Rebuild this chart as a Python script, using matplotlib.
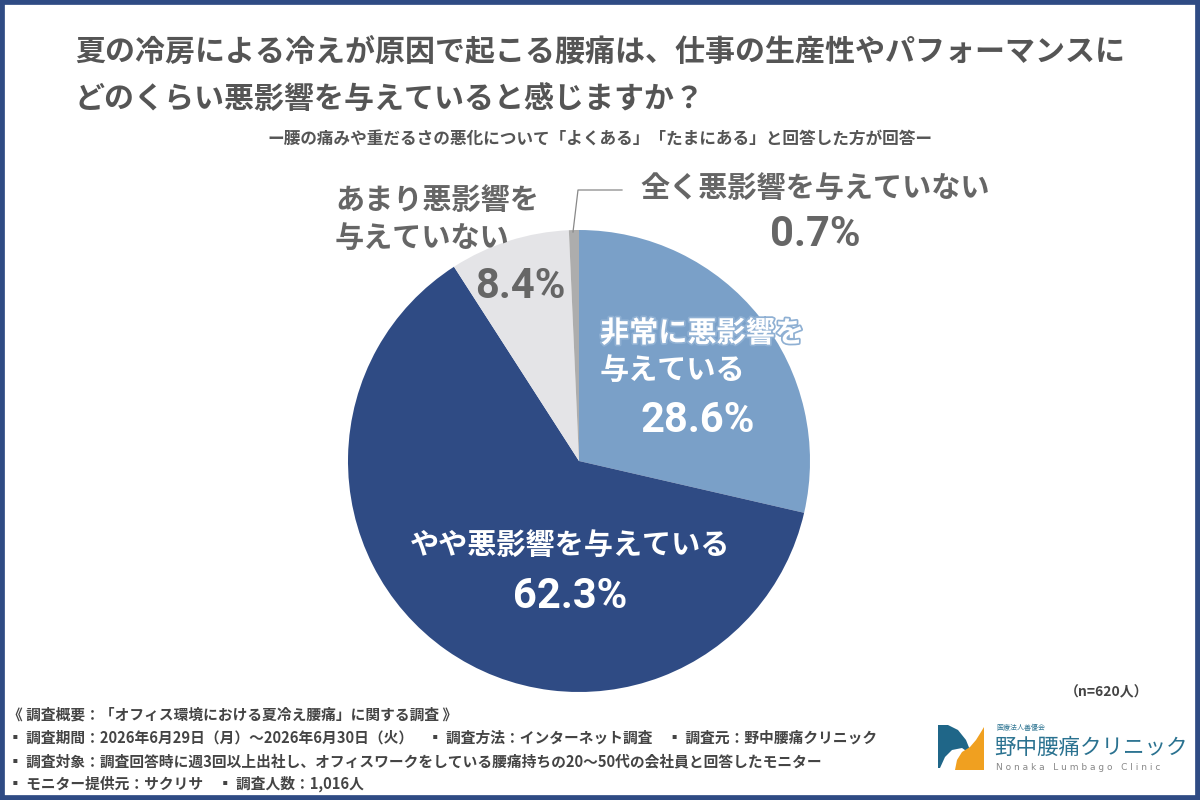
import matplotlib
matplotlib.use("Agg")
import matplotlib.pyplot as plt
import matplotlib.patheffects as pe
from matplotlib.patches import Rectangle, Polygon

plt.rcParams['font.family'] = ['Noto Sans CJK JP', 'DejaVu Sans']

# podaci
kategorije = ["非常に悪影響を\n与えている", "やや悪影響を与えている",
              "あまり悪影響を\n与えていない", "全く悪影響を与えていない"]
vrijednosti = [28.6, 62.3, 8.4, 0.7]
boje = ["#7aa0c8", "#2f4b84", "#e4e4e7", "#adadad"]

naslov = ["夏の冷房による冷えが原因で起こる腰痛は、仕事の生産性やパフォーマンスに",
          "どのくらい悪影響を与えていると感じますか？"]
podnaslov = "ー腰の痛みや重だるさの悪化について「よくある」「たまにある」と回答した方が回答ー"
uzorak = "（n=620人）"
biljeske = [
    "《 調査概要：「オフィス環境における夏冷え腰痛」に関する調査 》",
    "▪ 調査期間：2026年6月29日（月）～2026年6月30日（火）　▪ 調査方法：インターネット調査　▪ 調査元：野中腰痛クリニック",
    "▪ 調査対象：調査回答時に週3回以上出社し、オフィスワークをしている腰痛持ちの20～50代の会社員と回答したモニター",
    "▪ モニター提供元：サクリサ　▪ 調査人数：1,016人",
]

W, H = 1200, 800
fig = plt.figure(figsize=(12, 8), dpi=100)
fig.patch.set_facecolor("white")


def fx(x):
    return x / W


def fy(y):
    return 1 - y / H


def poligon(tocke, boja):
    """Crta poligon u pikselnim koordinatama slike."""
    fig.patches.append(Polygon([(fx(x), fy(y)) for x, y in tocke],
                               closed=True, transform=fig.transFigure,
                               facecolor=boja, edgecolor="none"))


# okvir
fig.patches.append(Rectangle((0, 0), 1, 1, transform=fig.transFigure,
                             fill=False, edgecolor="#2f4b84", linewidth=7))

# naslov
siva = "#555555"
fig.text(fx(75), fy(52), naslov[0], fontsize=21.6, fontweight="bold",
         color=siva, va="center")
fig.text(fx(75), fy(100), naslov[1], fontsize=21.6, fontweight="bold",
         color=siva, va="center")
fig.text(fx(600), fy(139), podnaslov, fontsize=12, fontweight="bold",
         color=siva, ha="center", va="center")

# pita
cx, cy, r = 579, 461, 231
ax = fig.add_axes([fx(cx - r), fy(cy + r), 2 * r / W, 2 * r / H])
ax.pie(vrijednosti, colors=boje, startangle=90, counterclock=False,
       wedgeprops=dict(linewidth=0))
ax.set_aspect("auto")
ax.set_xlim(-1, 1)
ax.set_ylim(-1, 1)
ax.axis("off")

brojevi = dict(family=['Roboto', 'Noto Sans CJK JP'], fontweight="bold")
obrub = [pe.withStroke(linewidth=2.5, foreground="#8fb0d3")]

# 28.6%
fig.text(fx(600), fy(333), "非常に悪影響を", fontsize=21, fontweight="bold",
         color="white", va="center", path_effects=obrub)
fig.text(fx(600), fy(370), "与えている", fontsize=21, fontweight="bold",
         color="white", va="center")
fig.text(fx(698), fy(420), f"{vrijednosti[0]}%", fontsize=30, color="white",
         ha="center", va="center", **brojevi)

# 62.3%
fig.text(fx(570), fy(545), kategorije[1], fontsize=21, fontweight="bold",
         color="white", ha="center", va="center")
fig.text(fx(570), fy(597), f"{vrijednosti[1]}%", fontsize=30, color="white",
         ha="center", va="center", **brojevi)

# 8.4%
fig.text(fx(335), fy(200), "あまり悪影響を", fontsize=21, fontweight="bold",
         color="#666666", va="center")
fig.text(fx(335), fy(238), "与えていない", fontsize=21, fontweight="bold",
         color="#666666", va="center")
fig.text(fx(520), fy(287), f"{vrijednosti[2]}%", fontsize=30, color="#666666",
         ha="center", va="center", **brojevi)

# 0.7%
fig.text(fx(815), fy(188), kategorije[3], fontsize=21, fontweight="bold",
         color="#666666", ha="center", va="center")
fig.text(fx(815), fy(235), f"{vrijednosti[3]}%", fontsize=30, color="#666666",
         ha="center", va="center", **brojevi)
fig.lines.append(plt.Line2D([fx(573), fx(578), fx(622)],
                            [fy(232), fy(190), fy(190)],
                            transform=fig.transFigure, color="#888888",
                            linewidth=0.9))

# n
fig.text(fx(1148), fy(692), uzorak, fontsize=10, fontweight="bold",
         color="#444444", ha="right", va="center")

# bilješke
for i, red in enumerate(biljeske):
    fig.text(fx(8), fy(715 + 23 * i), red, fontsize=10.6, fontweight="bold",
             color="#444444", va="center")

# logo
poligon([(938, 725), (948, 725), (958, 730), (966, 740), (972, 755),
         (962, 748), (952, 750), (945, 757), (940, 768), (938, 768)],
        "#1f6688")
poligon([(984, 727), (984, 770), (955, 770), (957, 760), (962, 752),
         (970, 747), (976, 740), (981, 732)], "#f0a020")
fig.text(fx(996), fy(728), "医療法人善優会", fontsize=5, color="#2a7290",
         va="center")
fig.text(fx(994), fy(748), "野中腰痛クリニック", fontsize=15.5, color="#2a7290",
         va="center")
fig.text(fx(996), fy(768),
         "   ".join(" ".join(w) for w in "Nonaka Lumbago Clinic".split()),
         fontsize=6.5, color="#888888", va="center", family="DejaVu Sans")

fig.savefig("out.png", dpi=100)
